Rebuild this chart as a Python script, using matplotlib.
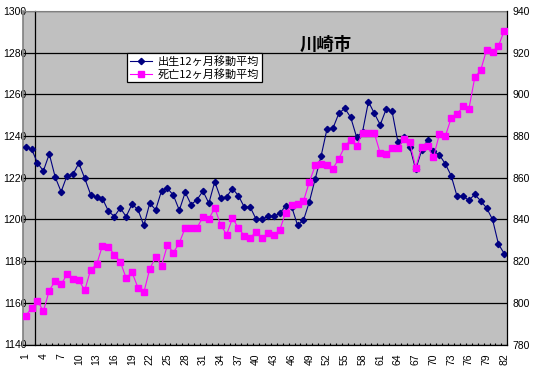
import matplotlib
matplotlib.use("Agg")
import matplotlib.pyplot as plt
from matplotlib.ticker import MultipleLocator, FixedLocator
import numpy as np

plt.rcParams['font.family'] = ['Liberation Sans', 'Noto Sans CJK JP', 'DejaVu Sans']

months = list(range(1, 83))
births = [1234.8, 1233.8, 1227.1, 1223.3, 1231.4, 1220.3, 1213.3, 1221.0, 1221.6, 1227.0,
          1219.7, 1211.9, 1210.6, 1210.0, 1204.0, 1201.4, 1205.5, 1201.4, 1207.3, 1204.8,
          1197.1, 1207.8, 1204.6, 1213.8, 1214.9, 1211.6, 1204.4, 1213.0, 1207.1, 1209.5,
          1213.6, 1207.8, 1218.1, 1210.1, 1210.9, 1214.8, 1211.4, 1205.9, 1205.9, 1200.1,
          1200.1, 1201.6, 1201.6, 1202.9, 1206.5, 1206.2, 1197.3, 1199.5, 1208.4, 1219.5,
          1230.5, 1243.5, 1243.8, 1250.9, 1253.3, 1249.0, 1239.5, 1242.0, 1256.5, 1250.9,
          1245.4, 1252.9, 1251.9, 1237.0, 1239.5, 1234.8, 1224.0, 1233.1, 1238.1, 1232.7,
          1231.0, 1226.7, 1221.0, 1211.1, 1211.1, 1209.2, 1212.0, 1208.9, 1205.5, 1200.0,
          1188.2, 1183.5]
deaths = [793.8, 797.4, 801.0, 796.0, 805.9, 810.6, 808.9, 813.6, 811.2, 810.8,
          806.0, 815.9, 818.4, 827.4, 827.0, 823.1, 819.8, 811.9, 814.6, 807.3,
          805.0, 816.3, 822.0, 817.9, 827.8, 824.1, 828.7, 836.0, 836.0, 836.0,
          841.2, 840.3, 845.5, 837.4, 832.7, 840.6, 835.9, 832.2, 831.2, 834.1,
          830.9, 833.5, 832.4, 835.0, 843.3, 846.8, 847.3, 848.7, 857.9, 865.9,
          866.8, 866.3, 864.4, 869.2, 875.0, 878.2, 875.0, 881.7, 881.7, 881.4,
          871.7, 871.3, 874.1, 874.1, 878.6, 877.1, 864.9, 874.6, 875.0, 869.8,
          880.8, 879.8, 888.6, 890.5, 894.2, 893.0, 908.2, 911.6, 921.4, 920.5,
          923.2, 930.6]
label_births = "出生12ヶ月移動平均"
label_deaths = "死亡12ヶ月移動平均"
title = "川崎市"
xtick_labels = [str(m) for m in range(1, 83, 3)]

W, H = 538, 374
fig = plt.figure(figsize=(W / 100, H / 100), dpi=100)
left, right, top, bottom = 22.7, 507.3, 11.0, 344.5
ax = fig.add_axes([left / W, 1 - bottom / H, (right - left) / W, (bottom - top) / H])
ax.set_facecolor('#C0C0C0')

ax.plot(months, births, color='#000080', marker='D', markersize=3.2, linewidth=0.8,
        markerfacecolor='#000080', markeredgecolor='#000080', label=label_births, zorder=3)
ax.set_xlim(0.5, 82.5)
ax.set_ylim(1140, 1300)
ax.yaxis.set_major_locator(MultipleLocator(20))
ax.grid(axis='y', color='black', linewidth=0.9)
ax.set_axisbelow(True)

ax.xaxis.set_major_locator(FixedLocator(list(range(1, 83, 3))))
ax.set_xticklabels(xtick_labels, rotation=90)
ax.xaxis.set_minor_locator(FixedLocator(list(np.arange(2.5, 83, 1.0))))
ax.tick_params(axis='x', which='major', length=0, pad=6.5, labelsize=7.5)
ax.tick_params(axis='x', which='minor', direction='in', length=1.8, width=0.8, color='black')
ax.tick_params(axis='y', length=0, pad=5.8, labelsize=7.5)

ax.spines['left'].set_position(('data', 2.5))
ax.spines['left'].set_color('black')
ax.spines['left'].set_linewidth(0.9)
ax.spines['bottom'].set_color('black')
ax.spines['bottom'].set_linewidth(0.9)
ax.spines['top'].set_color('#808080')
ax.spines['right'].set_visible(False)
ax.axvline(0.5, color='#808080', linewidth=1.2, clip_on=False, zorder=1)

ax2 = ax.twinx()
ax2.plot(months, deaths, color='#FF00FF', marker='s', markersize=4.2, linewidth=0.8,
         markerfacecolor='#FF00FF', markeredgecolor='#FF00FF', label=label_deaths, zorder=3)
ax2.set_ylim(780, 940)
ax2.yaxis.set_major_locator(MultipleLocator(20))
ax2.tick_params(axis='y', length=0, pad=4, labelsize=7.5)
for s in ['left', 'top', 'bottom']:
    ax2.spines[s].set_visible(False)
ax2.spines['right'].set_color('black')
ax2.spines['right'].set_linewidth(0.9)

h1, l1 = ax.get_legend_handles_labels()
h2, l2 = ax2.get_legend_handles_labels()
leg = ax2.legend(h1 + h2, l1 + l2, loc='upper left',
                 bbox_to_anchor=(127 / W, 1 - 53 / H), bbox_transform=fig.transFigure,
                 fancybox=False, framealpha=1, edgecolor='black', borderpad=0.25,
                 labelspacing=0.2, handlelength=2.0, handletextpad=0.5,
                 borderaxespad=0, prop={'family': ['Noto Sans CJK JP'], 'size': 8.0})
leg.get_frame().set_linewidth(0.9)

fig.text(326 / W, 1 - 44.5 / H, title, ha='center', va='center', fontsize=12.5,
         fontweight='bold', family=['Noto Sans CJK JP'])

fig.savefig('out.png', dpi=100, facecolor='white')
